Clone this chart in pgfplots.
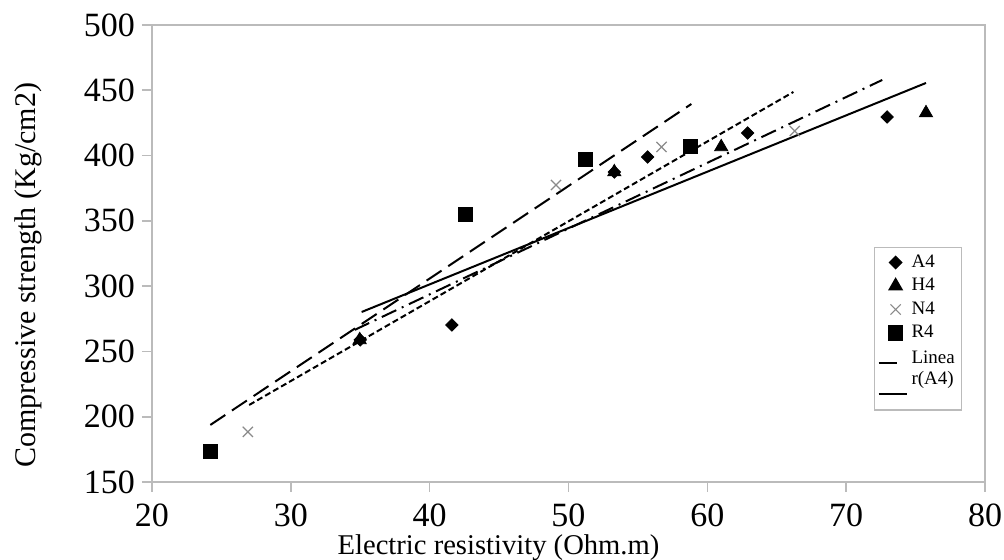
\documentclass[border=0pt]{standalone}
\usepackage{pgfplots}
\pgfplotsset{compat=1.18}
\usepackage{fontspec}
\setmainfont{Liberation Serif}
\definecolor{axgray}{HTML}{BBBBBB}
\definecolor{xgray}{HTML}{8A8A8A}
\pgfplotsset{
  shortleg/.style={legend image code/.code={\draw[##1, solid] (0pt,0pt) -- (9pt,0pt);}},
  longleg/.style={legend image code/.code={\draw[##1] (0pt,0pt) -- (14pt,0pt);}},
}

\begin{document}
\begin{tikzpicture}[x=1pt,y=1pt]
% 1 px of the reference = 0.5pt
\useasboundingbox (-76,-39) rectangle (426,241);
\begin{axis}[
  at={(0,0)}, anchor=south west,
  scale only axis,
  width=416.5pt, height=228.5pt,
  xmin=20, xmax=80, ymin=150, ymax=500,
  xtick={20,30,...,80}, ytick={150,200,...,500},
  axis line style={axgray, line width=0.8pt},
  tick style={axgray, line width=0.8pt},
  tick align=outside, major tick length=5pt,
  xtick pos=bottom, ytick pos=left,
  /pgf/number format/assume math mode=true,
  ticklabel style={font=\fontsize{17}{19}\selectfont},
  xticklabel style={yshift=-2.5pt},
  xlabel={Electric resistivity (Ohm.m)},
  ylabel={Compressive strength (Kg/cm2)},
  xlabel style={font=\fontsize{14.3}{16}\selectfont, xshift=-35pt, yshift=3pt},
  ylabel style={font=\fontsize{15}{17}\selectfont, xshift=-11pt, yshift=14pt},
  legend style={at={(0.8667,0.514)}, anchor=north west,
    draw=axgray, line width=0.6pt, font=\fontsize{9.5}{10.5}\selectfont,
    inner sep=1.5pt, row sep=0pt, cells={anchor=west}},
  legend cell align=left,
]
% data points
\addplot[only marks, mark=square*, mark size=2.2pt, mark options={rotate=45}, black] coordinates {
  (35.0,258.8) (41.6,270.3) (53.3,387.4) (55.7,398.9) (62.9,417.3) (72.95,429.6)};
\addlegendentry{A4}
\addplot[only marks, mark=triangle*, mark size=3.8pt, black] coordinates {
  (34.96,258.8) (53.3,387.4) (61.0,406.6) (75.75,432.6)};
\addlegendentry{H4}
\addplot[only marks, mark=x, mark size=3.6pt, xgray, mark options={line width=0.6pt}] coordinates {
  (26.9,188.4) (49.1,377.5) (56.7,406.6) (66.3,418.8)};
\addlegendentry{N4}
\addplot[only marks, mark=square*, mark size=3.5pt, black] coordinates {
  (24.2,173.8) (42.6,355.3) (51.2,397.4) (58.8,407.4)};
\addlegendentry{R4}
% trend lines
\addplot[black, line width=1pt, dash pattern=on 8pt off 3pt on 1pt off 3pt, shortleg] coordinates {
  (34.6,266.5) (72.6,457.9)};
\addlegendentry{\begin{tabular}{@{}l@{}}Linea\\r(A4)\end{tabular}}
\addplot[black, line width=1pt, longleg] coordinates {
  (35.1,280.2) (75.75,455.6)};
\addlegendentry{\strut}
\addplot[black, line width=1pt, dash pattern=on 3pt off 1.6pt, forget plot] coordinates {
  (27.0,209.0) (66.2,448.7)};
\addplot[black, line width=1pt, dash pattern=on 9pt off 4pt, forget plot] coordinates {
  (24.2,193.7) (58.85,439.5)};
\end{axis}
\end{tikzpicture}
\end{document}
